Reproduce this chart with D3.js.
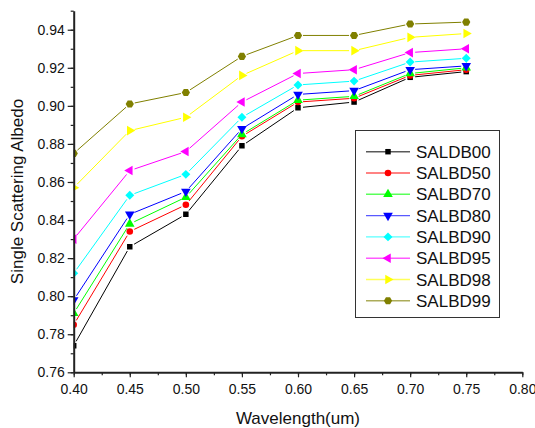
<!DOCTYPE html>
<html>
<head>
<meta charset="utf-8">
<script src="https://cdn.jsdelivr.net/npm/d3@7"></script>
<style>
  body { margin: 0; background: #fff; }
  text { font-family: "Liberation Sans", Arial, sans-serif; fill: #111; }
</style>
</head>
<body>
<div id="chart"></div>
<script>
// wavelengths on the x axis
var wavelengths = [0.40, 0.45, 0.50, 0.55, 0.60, 0.65, 0.70, 0.75];

// series names, in legend order
var seriesNames = ["SALDB00", "SALBD50", "SALBD70", "SALBD80", "SALBD90", "SALBD95", "SALBD98", "SALBD99"];

// single scattering albedo per series
var saldb00 = [0.774, 0.826, 0.843, 0.879, 0.899, 0.902, 0.915, 0.918];
var salbd50 = [0.785, 0.834, 0.848, 0.884, 0.902, 0.904, 0.916, 0.919];
var salbd70 = [0.791, 0.838, 0.852, 0.885, 0.903, 0.905, 0.917, 0.920];
var salbd80 = [0.798, 0.843, 0.855, 0.888, 0.906, 0.908, 0.919, 0.921];
var salbd90 = [0.812, 0.853, 0.864, 0.894, 0.911, 0.913, 0.923, 0.925];
var salbd95 = [0.830, 0.866, 0.876, 0.902, 0.917, 0.919, 0.928, 0.930];
var salbd98 = [0.857, 0.887, 0.894, 0.916, 0.929, 0.929, 0.936, 0.938];
var salbd99 = [0.875, 0.901, 0.907, 0.926, 0.937, 0.937, 0.943, 0.944];
var seriesValues = [saldb00, salbd50, salbd70, salbd80, salbd90, salbd95, salbd98, salbd99];

// tick labels
var xTicks = [0.40, 0.45, 0.50, 0.55, 0.60, 0.65, 0.70, 0.75, 0.80];
var yTicks = [0.76, 0.78, 0.80, 0.82, 0.84, 0.86, 0.88, 0.90, 0.92, 0.94];

// look of each series
var colors = ["#000000", "#ff0000", "#00ff00", "#0000ff", "#00ffff", "#ff00ff", "#ffff00", "#808000"];

// hexagon symbol, d3 has none
var symbolHexagon = {
  draw: function(context, size) {
    var r = Math.sqrt(size / (1.5 * Math.sqrt(3)));
    for (var i = 0; i < 6; i++) {
      var a = Math.PI / 3 * i;
      if (i == 0) context.moveTo(r * Math.cos(a), r * Math.sin(a));
      else context.lineTo(r * Math.cos(a), r * Math.sin(a));
    }
    context.closePath();
  }
};

// symbol type, size and rotation per series
var markers = [
  { type: d3.symbolSquare, size: 30, rot: 0 },
  { type: d3.symbolCircle, size: 34, rot: 0 },
  { type: d3.symbolTriangle, size: 40, rot: 0 },
  { type: d3.symbolTriangle, size: 40, rot: 180 },
  { type: d3.symbolSquare, size: 40, rot: 45 },
  { type: d3.symbolTriangle, size: 40, rot: -90 },
  { type: d3.symbolTriangle, size: 40, rot: 90 },
  { type: symbolHexagon, size: 44, rot: 0 }
];

var width = 535, height = 428;

var svg = d3.select("#chart").append("svg").attr("width", width).attr("height", height);

// scales
var x = d3.scaleLinear().domain([0.40, 0.80]).range([73.7, 522.3]);
var y = d3.scaleLinear().domain([0.76, 0.95]).range([372.3, 10.7]);

// clip the plot area at the left axis, markers at 0.40 are cut in half
svg.append("clipPath").attr("id", "plotClip").append("rect")
  .attr("x", x(0.40)).attr("y", 0).attr("width", x(0.80) - x(0.40)).attr("height", y(0.76));

var plot = svg.append("g").attr("clip-path", "url(#plotClip)");

// draw each series, segments stop short of the symbols
var gap = 5;
seriesValues.forEach(function(vals, s) {
  var g = plot.append("g");
  for (var i = 0; i < vals.length - 1; i++) {
    var x1 = x(wavelengths[i]), y1 = y(vals[i]);
    var x2 = x(wavelengths[i + 1]), y2 = y(vals[i + 1]);
    var len = Math.sqrt((x2 - x1) * (x2 - x1) + (y2 - y1) * (y2 - y1));
    var dx = (x2 - x1) / len * gap, dy = (y2 - y1) / len * gap;
    g.append("line")
      .attr("x1", x1 + dx).attr("y1", y1 + dy)
      .attr("x2", x2 - dx).attr("y2", y2 - dy)
      .attr("stroke", colors[s]).attr("stroke-width", 1);
  }
  var m = markers[s];
  g.selectAll("path").data(vals).enter().append("path")
    .attr("d", d3.symbol().type(m.type).size(m.size))
    .attr("transform", function(d, i) {
      return "translate(" + x(wavelengths[i]) + "," + y(d) + ") rotate(" + m.rot + ")";
    })
    .attr("fill", colors[s]);
});

// x axis with minor ticks
var xMinor = d3.range(0.40, 0.8001, 0.025);
svg.append("g").attr("transform", "translate(0," + y(0.76) + ")")
  .call(d3.axisBottom(x).tickValues(xMinor).tickSize(3).tickFormat(""))
  .call(function(g) { g.select(".domain").remove(); });
var xAxis = svg.append("g").attr("transform", "translate(0," + y(0.76) + ")")
  .call(d3.axisBottom(x).tickValues(xTicks).tickSize(5).tickSizeOuter(0).tickPadding(7).tickFormat(d3.format(".2f")));
xAxis.select(".domain").attr("stroke", "#222").attr("stroke-width", 2);
xAxis.selectAll("text").attr("font-size", 14).attr("font-family", "Liberation Sans, Arial, sans-serif").attr("fill", "#111");

// y axis with minor ticks
var yMinor = d3.range(0.76, 0.9501, 0.01);
svg.append("g").attr("transform", "translate(" + x(0.40) + ",0)")
  .call(d3.axisLeft(y).tickValues(yMinor).tickSize(3).tickFormat(""))
  .call(function(g) { g.select(".domain").remove(); });
var yAxis = svg.append("g").attr("transform", "translate(" + x(0.40) + ",0)")
  .call(d3.axisLeft(y).tickValues(yTicks).tickSize(6).tickSizeOuter(0).tickPadding(3).tickFormat(d3.format(".2f")));
yAxis.select(".domain").attr("stroke", "#222").attr("stroke-width", 2);
yAxis.selectAll("text").attr("font-size", 14).attr("font-family", "Liberation Sans, Arial, sans-serif").attr("fill", "#111");
svg.selectAll(".tick line").attr("stroke", "#222").attr("stroke-width", 1.2);

// axis titles
svg.append("text").attr("x", (x(0.40) + x(0.80)) / 2).attr("y", 424)
  .attr("text-anchor", "middle").attr("font-size", 17).text("Wavelength(um)");
svg.append("text").attr("transform", "translate(23," + (y(0.76) + y(0.95)) / 2 + ") rotate(-90)")
  .attr("text-anchor", "middle").attr("font-size", 17).text("Single Scattering Albedo");

// legend box
var legend = svg.append("g");
legend.append("rect").attr("x", 355.5).attr("y", 130.5).attr("width", 144).attr("height", 187)
  .attr("fill", "#fff").attr("stroke", "#333").attr("stroke-width", 1);

seriesNames.forEach(function(name, s) {
  var ry = 151.7 + s * 21.3;
  var m = markers[s];
  legend.append("line").attr("x1", 366).attr("x2", 410).attr("y1", ry).attr("y2", ry)
    .attr("stroke", colors[s]).attr("stroke-width", 1.4).attr("stroke-opacity", 0.65);
  legend.append("path")
    .attr("d", d3.symbol().type(m.type).size(m.size))
    .attr("transform", "translate(388," + ry + ") rotate(" + m.rot + ")")
    .attr("fill", colors[s]);
  legend.append("text").attr("x", 416).attr("y", ry + 6).attr("font-size", 17).text(name);
});
</script>
</body>
</html>
